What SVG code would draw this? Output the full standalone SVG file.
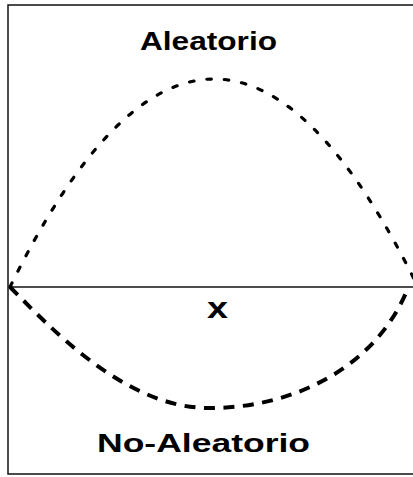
<svg xmlns="http://www.w3.org/2000/svg" width="413" height="477" viewBox="0 0 413 477">
<style>
.frame{fill:none;stroke:#111;stroke-width:1.5}
.axis{fill:none;stroke:#111;stroke-width:1.6}
.dotted{fill:none;stroke:#000;stroke-width:3.2;stroke-dasharray:4.5 13;stroke-linecap:round}
.dashed{fill:none;stroke:#000;stroke-width:4;stroke-dasharray:11 8.5}
.lbl{font-family:"Liberation Sans",Arial,sans-serif;font-weight:bold;fill:#000;text-anchor:middle}
</style>
<rect width="413" height="477" fill="#fff"/>
<g id="frame">
<path class="frame" d="M413,5 H8 V474 H413"/>
</g>
<g id="connectors">
<line class="axis" x1="9" y1="287" x2="413" y2="287"/>
<path id="aleatorio-curve" class="dotted" d="M10,287 Q214,-129 418,287"/>
<path id="no-aleatorio-curve" class="dashed" d="M10,287 C48,325 125,409 210,408 C290,408 375,370 408,288"/>
</g>
<g id="label-aleatorio">
<text class="lbl" x="208.5" y="50" font-size="26" textLength="137" lengthAdjust="spacingAndGlyphs">Aleatorio</text>
</g>
<g id="label-x">
<text class="lbl" x="217.5" y="318" font-size="29" textLength="21" lengthAdjust="spacingAndGlyphs">x</text>
</g>
<g id="label-no-aleatorio">
<text class="lbl" x="203.5" y="452" font-size="26" textLength="213" lengthAdjust="spacingAndGlyphs">No-Aleatorio</text>
</g>
</svg>
